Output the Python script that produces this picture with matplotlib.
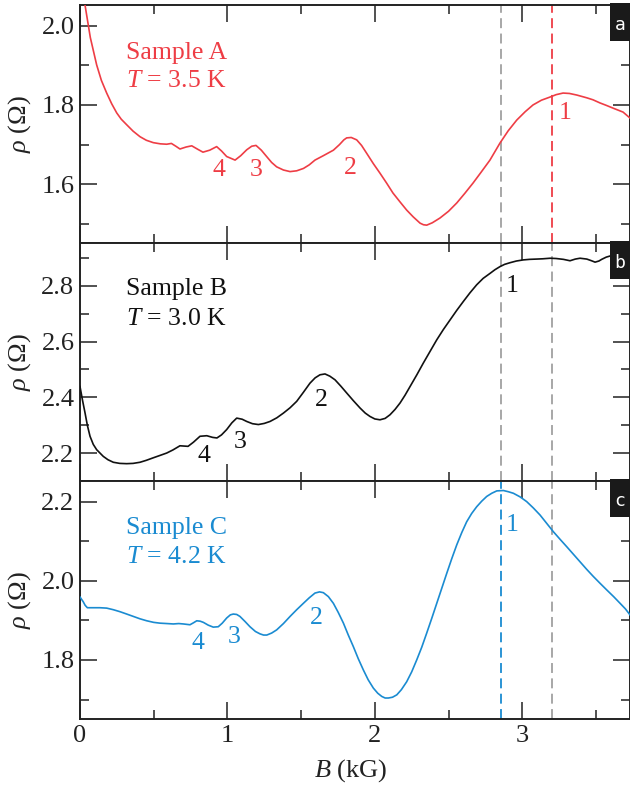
import matplotlib
matplotlib.use("Agg")
import matplotlib.pyplot as plt
from matplotlib.patches import Rectangle
from matplotlib.ticker import MultipleLocator, FormatStrFormatter

plt.rcParams['font.family'] = ['Liberation Serif', 'DejaVu Serif']
plt.rcParams['mathtext.fontset'] = 'custom'
plt.rcParams['mathtext.rm'] = 'Liberation Serif'
plt.rcParams['mathtext.it'] = 'Liberation Serif:italic'

# ---------------- data ----------------
# Sample A (T = 3.5 K)
a_B = [0.000, 0.034, 0.070, 0.113, 0.145, 0.181, 0.215, 0.249, 0.280, 0.317, 0.360, 0.407,
       0.450, 0.497, 0.545, 0.588, 0.620, 0.650, 0.678, 0.720, 0.758, 0.800, 0.834, 0.880,
       0.927, 0.960, 0.995, 1.052, 1.090, 1.131, 1.165, 1.194, 1.230, 1.266, 1.300, 1.334,
       1.380, 1.425, 1.470, 1.516, 1.555, 1.594, 1.650, 1.719, 1.760, 1.790, 1.809, 1.840,
       1.877, 1.910, 1.945, 1.990, 2.035, 2.080, 2.123, 2.170, 2.216, 2.260, 2.307, 2.330,
       2.352, 2.390, 2.442, 2.500, 2.556, 2.610, 2.666, 2.720, 2.781, 2.849, 2.905, 2.963,
       3.020, 3.073, 3.130, 3.189, 3.230, 3.277, 3.320, 3.370, 3.438, 3.480, 3.528, 3.570,
       3.616, 3.684, 3.731]
a_rho = [2.150, 2.052, 1.970, 1.901, 1.862, 1.830, 1.803, 1.780, 1.764, 1.750, 1.734, 1.720,
         1.711, 1.705, 1.702, 1.701, 1.703, 1.696, 1.689, 1.694, 1.697, 1.688, 1.681, 1.686,
         1.695, 1.684, 1.670, 1.661, 1.672, 1.687, 1.696, 1.698, 1.686, 1.670, 1.655, 1.644,
         1.636, 1.632, 1.634, 1.640, 1.649, 1.661, 1.672, 1.686, 1.700, 1.712, 1.717, 1.718,
         1.712, 1.698, 1.678, 1.652, 1.628, 1.603, 1.578, 1.556, 1.535, 1.518, 1.502, 1.498,
         1.497, 1.503, 1.515, 1.532, 1.553, 1.577, 1.603, 1.630, 1.661, 1.704, 1.735, 1.762,
         1.783, 1.800, 1.812, 1.820, 1.826, 1.830, 1.829, 1.825, 1.818, 1.813, 1.805, 1.799,
         1.792, 1.782, 1.767]

# Sample B (T = 3.0 K)
b_B = [0.000, 0.017, 0.034, 0.050, 0.068, 0.090, 0.113, 0.158, 0.190, 0.226, 0.270, 0.317,
       0.360, 0.407, 0.450, 0.497, 0.540, 0.588, 0.630, 0.678, 0.733, 0.770, 0.814, 0.860,
       0.900, 0.929, 0.960, 0.995, 1.030, 1.063, 1.100, 1.131, 1.170, 1.210, 1.250, 1.289,
       1.335, 1.380, 1.425, 1.470, 1.515, 1.560, 1.595, 1.628, 1.662, 1.695, 1.730, 1.770,
       1.809, 1.855, 1.900, 1.935, 1.967, 2.000, 2.035, 2.070, 2.103, 2.137, 2.171, 2.205,
       2.239, 2.285, 2.329, 2.375, 2.420, 2.465, 2.510, 2.555, 2.600, 2.645, 2.691, 2.735,
       2.782, 2.815, 2.849, 2.880, 2.917, 2.960, 3.007, 3.050, 3.098, 3.140, 3.189, 3.230,
       3.279, 3.324, 3.360, 3.392, 3.438, 3.470, 3.494, 3.520, 3.539, 3.570, 3.596, 3.731]
b_rho = [2.439, 2.390, 2.345, 2.300, 2.261, 2.232, 2.213, 2.189, 2.177, 2.168, 2.164, 2.163,
         2.164, 2.168, 2.175, 2.184, 2.192, 2.201, 2.212, 2.227, 2.225, 2.240, 2.261, 2.263,
         2.257, 2.255, 2.266, 2.285, 2.309, 2.326, 2.322, 2.314, 2.306, 2.303, 2.307, 2.314,
         2.327, 2.344, 2.363, 2.386, 2.418, 2.451, 2.470, 2.481, 2.484, 2.476, 2.463, 2.440,
         2.416, 2.388, 2.362, 2.344, 2.332, 2.323, 2.320, 2.325, 2.338, 2.357, 2.380, 2.408,
         2.439, 2.481, 2.523, 2.565, 2.606, 2.643, 2.677, 2.711, 2.743, 2.774, 2.803, 2.826,
         2.844, 2.857, 2.868, 2.876, 2.882, 2.888, 2.892, 2.894, 2.895, 2.896, 2.898, 2.897,
         2.894, 2.889, 2.895, 2.898, 2.895, 2.889, 2.884, 2.888, 2.894, 2.902, 2.906, 2.910]

# Sample C (T = 4.2 K)
c_B = [0.000, 0.022, 0.035, 0.050, 0.090, 0.135, 0.181, 0.226, 0.271, 0.317, 0.362, 0.407,
       0.453, 0.500, 0.543, 0.590, 0.633, 0.670, 0.701, 0.746, 0.770, 0.792, 0.815, 0.837,
       0.870, 0.904, 0.938, 0.965, 0.995, 1.020, 1.040, 1.063, 1.085, 1.120, 1.153, 1.190,
       1.221, 1.245, 1.267, 1.300, 1.334, 1.380, 1.425, 1.470, 1.515, 1.555, 1.594, 1.625,
       1.651, 1.685, 1.719, 1.752, 1.787, 1.820, 1.854, 1.888, 1.922, 1.955, 1.990, 2.020,
       2.047, 2.070, 2.092, 2.120, 2.149, 2.180, 2.216, 2.250, 2.284, 2.318, 2.352, 2.386,
       2.420, 2.454, 2.488, 2.522, 2.556, 2.590, 2.623, 2.657, 2.691, 2.725, 2.759, 2.793,
       2.827, 2.872, 2.905, 2.940, 2.985, 3.030, 3.075, 3.121, 3.166, 3.211, 3.256, 3.302,
       3.347, 3.392, 3.437, 3.482, 3.527, 3.573, 3.620, 3.664, 3.700, 3.731]
c_rho = [1.959, 1.947, 1.938, 1.932, 1.932, 1.932, 1.931, 1.927, 1.922, 1.916, 1.910, 1.904,
         1.899, 1.895, 1.893, 1.892, 1.891, 1.892, 1.891, 1.889, 1.894, 1.899, 1.898, 1.895,
         1.888, 1.883, 1.884, 1.893, 1.906, 1.914, 1.916, 1.915, 1.910, 1.897, 1.884, 1.872,
         1.866, 1.863, 1.863, 1.868, 1.876, 1.892, 1.910, 1.927, 1.943, 1.957, 1.969, 1.972,
         1.970, 1.960, 1.943, 1.920, 1.893, 1.863, 1.834, 1.803, 1.775, 1.750, 1.729, 1.716,
         1.708, 1.704, 1.704, 1.706, 1.712, 1.725, 1.745, 1.770, 1.800, 1.832, 1.868, 1.905,
         1.943, 1.981, 2.019, 2.056, 2.091, 2.122, 2.149, 2.170, 2.187, 2.201, 2.213, 2.221,
         2.227, 2.228, 2.225, 2.221, 2.212, 2.200, 2.184, 2.166, 2.145, 2.124, 2.105, 2.086,
         2.067, 2.048, 2.029, 2.011, 1.994, 1.977, 1.960, 1.943, 1.929, 1.914]

# peak labels
a_peaks_B = [3.29, 1.835, 1.194, 0.94]
a_peaks_rho = [1.780, 1.642, 1.635, 1.635]
b_peaks_B = [2.928, 1.635, 1.085, 0.841]
b_peaks_rho = [2.799, 2.392, 2.241, 2.189]
c_peaks_B = [2.929, 1.606, 1.047, 0.798]
c_peaks_rho = [2.141, 1.906, 1.858, 1.842]
peak_labels = ['1', '2', '3', '4']

# dashed guide lines
B_c = 2.855
B_a = 3.205

names = ['Sample A', 'Sample B', 'Sample C']
temps = [r'$T$ = 3.5 K', r'$T$ = 3.0 K', r'$T$ = 4.2 K']
panel_tags = ['a', 'b', 'c']
ylims = [(1.452, 2.052), (2.101, 2.9525), (1.651, 2.252)]
yticks = [[1.6, 1.8, 2.0], [2.2, 2.4, 2.6, 2.8], [1.8, 2.0, 2.2]]

RED = '#ee3d45'
BLACK = '#111111'
BLUE = '#1a8bd1'
GRAY = '#a0a0a0'
colors = [RED, BLACK, BLUE]

curves = [(a_B, a_rho), (b_B, b_rho), (c_B, c_rho)]
peaks = [(a_peaks_B, a_peaks_rho), (b_peaks_B, b_peaks_rho), (c_peaks_B, c_peaks_rho)]
vcolors = [(GRAY, RED), (GRAY, GRAY), (BLUE, GRAY)]

# ---------------- figure ----------------
W, H = 630, 789
fig = plt.figure(figsize=(W / 100, H / 100), dpi=100)

left = 80 / W
width = 1.0 - left
tops = [5, 243, 481]
ph = 238

axes = []
for i in range(3):
    bottom = 1 - (tops[i] + ph) / H
    ax = fig.add_axes([left, bottom, width, ph / H])
    axes.append(ax)
    x, y = curves[i]
    col = colors[i]
    ax.plot(x, y, color=col, lw=1.2, zorder=3, solid_joinstyle='round')
    vc1, vc2 = vcolors[i]
    ax.axvline(B_c, color=vc1, lw=1.3, dashes=(5.5, 3), zorder=2)
    ax.axvline(B_a, color=vc2, lw=1.3, dashes=(5.5, 3), zorder=2)

    ax.set_xlim(0, 3.731)
    ax.set_ylim(*ylims[i])
    ax.set_yticks(yticks[i])
    ax.yaxis.set_minor_locator(MultipleLocator(0.1))
    ax.xaxis.set_major_locator(MultipleLocator(1))
    ax.xaxis.set_minor_locator(MultipleLocator(0.5))
    ax.yaxis.set_major_formatter(FormatStrFormatter('%.1f'))
    ax.tick_params(which='both', direction='in', top=True, right=True, width=1.1,
                   labelsize=19, pad=4, colors='#222222', labelcolor='#222222')
    ax.tick_params(which='major', length=12)
    ax.tick_params(which='minor', length=6.5)
    for s in ax.spines.values():
        s.set_linewidth(1.4)
        s.set_color('#222222')
    if i < 2:
        ax.tick_params(labelbottom=False)

    ax.set_ylabel(r'$\rho$ ($\Omega$)', fontsize=19, va='center', color='#222222')
    ax.yaxis.set_label_coords(-0.109, 0.5)

    ax.text(0.083, [0.773, 0.78, 0.777][i], names[i], transform=ax.transAxes,
            fontsize=18.5, color=col, ha='left', va='baseline')
    ax.text(0.083, 0.655, temps[i], transform=ax.transAxes,
            fontsize=18.5, color=col, ha='left', va='baseline')

    px, py = peaks[i]
    for lab, bx, by in zip(peak_labels, px, py):
        ax.text(bx, by, lab, fontsize=18.5, color=col, ha='center', va='center', zorder=4)

    ax.add_patch(Rectangle((0.9636, 0.847), 0.05, 0.16, transform=ax.transAxes,
                           facecolor='#1a1a1a', edgecolor='none', zorder=5, clip_on=False))
    ax.text(0.982, 0.918, panel_tags[i], transform=ax.transAxes, fontsize=13,
            color='white', ha='center', va='center', zorder=6,
            family=['DejaVu Sans Mono'])

axes[2].set_xlabel(r'$B$ (kG)', fontsize=19, color='#222222')
axes[2].xaxis.set_label_coords(0.493, -0.215)
axes[2].xaxis.label.set_va('center')

fig.savefig('out.png', dpi=100)
